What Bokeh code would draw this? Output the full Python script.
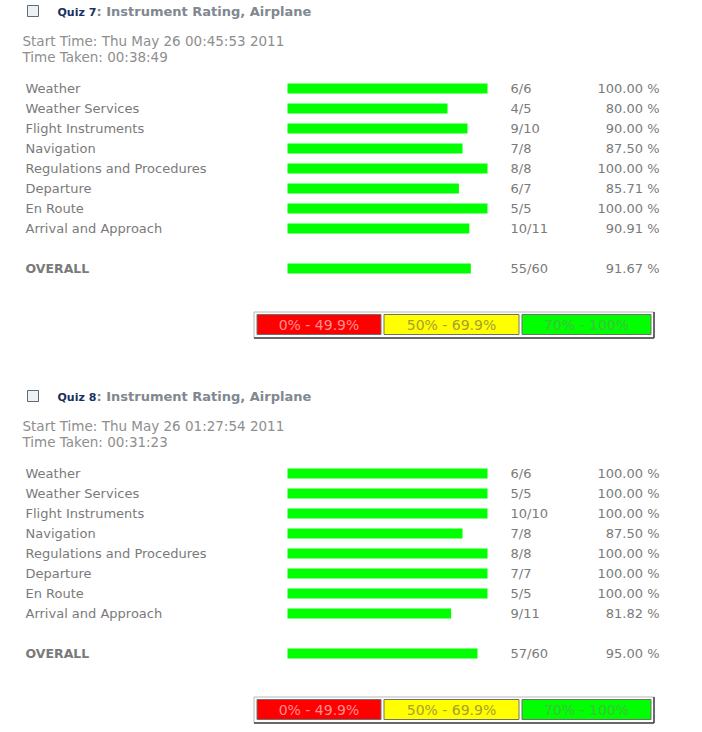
from bokeh.plotting import figure
from bokeh.models import Range1d, ColumnDataSource
from bokeh.embed import file_html
from bokeh.resources import INLINE
from bokeh.core.properties import value

# ---------------- data ----------------
topics = ["Weather", "Weather Services", "Flight Instruments", "Navigation",
          "Regulations and Procedures", "Departure", "En Route", "Arrival and Approach"]
quiz_ids = ["Quiz 7", "Quiz 8"]
quiz_title = ": Instrument Rating, Airplane"
start_times = ["Thu May 26 00:45:53 2011", "Thu May 26 01:27:54 2011"]
time_taken = ["00:38:49", "00:31:23"]
q7_correct = [6, 4, 9, 7, 8, 6, 5, 10]
q7_total = [6, 5, 10, 8, 8, 7, 5, 11]
q8_correct = [6, 5, 10, 7, 8, 7, 5, 9]
q8_total = [6, 5, 10, 8, 8, 7, 5, 11]
legend_labels = ["0% - 49.9%", "50% - 69.9%", "70% - 100%"]
legend_colors = ["#ff0000", "#ffff00", "#00ff00"]
legend_text_colors = ["#ff9090", "#a8a030", "#40c040"]

# ---------------- layout constants ----------------
FONT = value("DejaVu Sans")
GRAY = "#7a7a7a"
BAR_X0 = 287
BAR_FULL = 200
W, H = 702, 732

p = figure(width=W, height=H, output_backend="svg", toolbar_location=None,
           x_range=Range1d(0, W), y_range=Range1d(H, 0),
           min_border=0, min_border_left=0, min_border_right=0,
           min_border_top=0, min_border_bottom=0)
p.axis.visible = False
p.grid.visible = False
p.outline_line_color = None
p.background_fill_color = "white"
p.border_fill_color = "white"

blocks = [(q7_correct, q7_total), (q8_correct, q8_total)]
for b, (corr, tot) in enumerate(blocks):
    oy = 385 * b
    # checkbox
    p.rect(x=[32.5], y=[10.5 + oy], width=11, height=11,
           fill_color="#eef0f2", line_color="#5a6a80", line_width=1)
    # header
    p.text(x=[57], y=[12 + oy], text=[quiz_ids[b]], text_font=FONT,
           text_font_size="11px", text_font_style="bold", text_color="#1a2f5e",
           text_baseline="middle", text_align="left")
    p.text(x=[96], y=[11 + oy], text=[quiz_title], text_font=FONT,
           text_font_size="13px", text_font_style="bold", text_color="#808890",
           text_baseline="middle", text_align="left")
    p.text(x=[22, 22], y=[40 + oy, 56 + oy],
           text=["Start Time: " + start_times[b], "Time Taken: " + time_taken[b]],
           text_font=FONT, text_font_size="13.5px", text_color="#8e8e8e",
           text_baseline="middle", text_align="left")

    # rows
    ys = [88 + 20 * i + oy for i in range(len(topics))]
    sc, st = sum(corr), sum(tot)
    all_y = ys + [268 + oy]
    all_c = corr + [sc]
    all_t = tot + [st]
    pct = [100.0 * c / t for c, t in zip(all_c, all_t)]
    src = ColumnDataSource(dict(
        y=all_y,
        left=[BAR_X0] * len(all_y),
        right=[BAR_X0 + BAR_FULL * c / t for c, t in zip(all_c, all_t)],
        score=[f"{c}/{t}" for c, t in zip(all_c, all_t)],
        pct=[f"{v:.2f} %" for v in pct],
        label=topics + ["OVERALL"],
    ))
    p.hbar(y="y", left="left", right="right", height=10, source=src,
           fill_color="#00ff00", line_color=None)
    p.text(x=25, y=ys, text=topics, text_font=FONT, text_font_size="13px",
           text_color=GRAY, text_baseline="middle", text_align="left")
    p.text(x=[25], y=[268 + oy], text=["OVERALL"], text_font=FONT,
           text_font_size="12.5px", text_font_style="bold", text_color=GRAY,
           text_baseline="middle", text_align="left")
    p.text(x=510, y="y", text="score", source=src, text_font=FONT,
           text_font_size="13px", text_color=GRAY, text_baseline="middle",
           text_align="left")
    p.text(x=659, y="y", text="pct", source=src, text_font=FONT,
           text_font_size="13px", text_color=GRAY, text_baseline="middle",
           text_align="right")

    # legend
    ly = 324 + oy
    p.quad(left=[253.5], right=[653.5], top=[311.5 + oy], bottom=[337.5 + oy],
           fill_color="white", line_color="#b8b8b8", line_width=1)
    p.segment(x0=[253.5, 653.5], y0=[337.5 + oy, 311.5 + oy],
              x1=[653.5, 653.5], y1=[337.5 + oy, 337.5 + oy],
              line_color="#404048", line_width=1.5)
    lefts = [256.5, 383.5, 521.5]
    rights = [380.5, 518.5, 650.5]
    p.quad(left=lefts, right=rights, top=[314 + oy] * 3, bottom=[334 + oy] * 3,
           fill_color=legend_colors, line_color="#707070", line_width=1)
    p.text(x=[(l + r) / 2 for l, r in zip(lefts, rights)], y=[ly] * 3,
           text=legend_labels, text_font=FONT, text_font_size="14px",
           text_color=legend_text_colors, text_baseline="middle", text_align="center")

open("out.html", "w").write(file_html(p, INLINE))
